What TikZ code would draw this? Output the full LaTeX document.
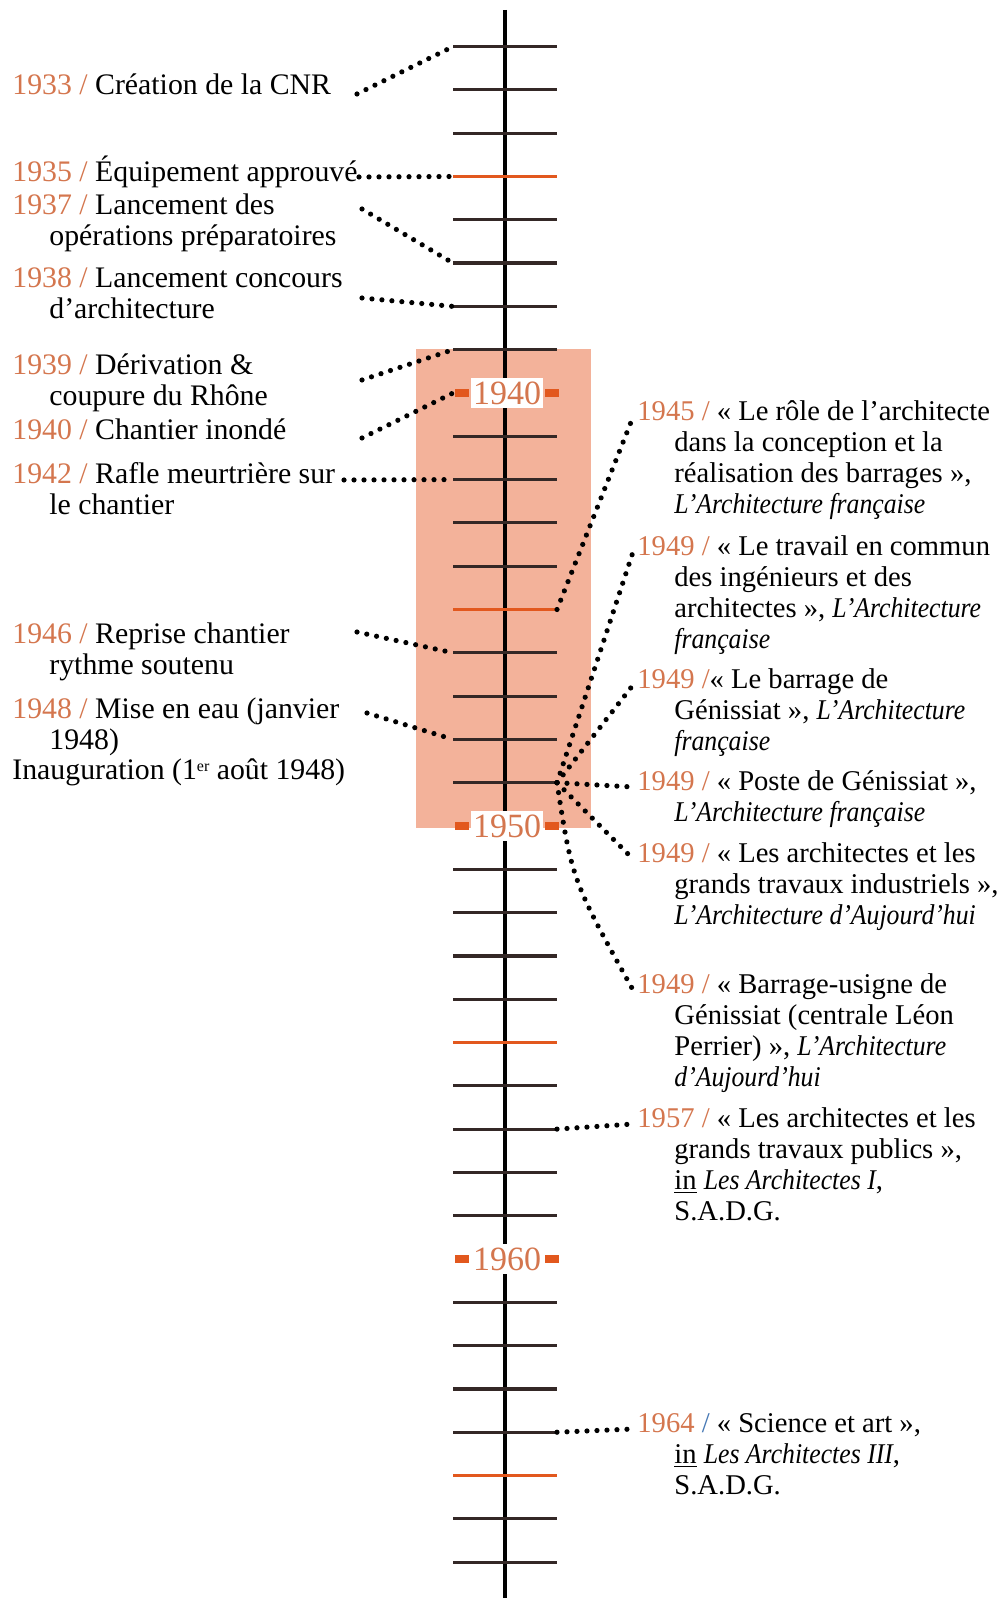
\documentclass[tikz,border=0pt]{standalone}
\usepackage{fontspec}
\setmainfont{Liberation Serif}[ItalicFeatures={FakeStretch=0.9}]
\usetikzlibrary{calc}

\definecolor{annee}{RGB}{212,118,78}
\definecolor{repere}{RGB}{226,88,30}
\definecolor{trait}{RGB}{52,40,38}
\definecolor{saumon}{RGB}{243,178,154}
\definecolor{barre}{RGB}{70,120,180}

\newcommand{\datean}[1]{\textcolor{annee}{#1 /}}
\newcommand{\retrait}{\hspace*{18.5pt}}

\begin{document}
\begin{tikzpicture}[x=0.5pt,y=-0.5pt,
  evt/.style={anchor=north west,inner sep=0pt,align=left,font=\fontsize{14.9}{14.4}\selectfont},
  pub/.style={evt,font=\fontsize{14.3}{15.6}\selectfont},
  pointille/.style={line width=2.6pt,dash pattern=on 0pt off 5pt,line cap=round},
  decennie/.style={fill=white,inner xsep=1pt,inner ysep=2pt,text=annee,font=\fontsize{17}{17}\selectfont}]

  % cadre
  \useasboundingbox (0,0) rectangle (1000,1598);

  % periode du chantier
  \fill[saumon] (416,349) rectangle (591,828);

  % axe
  \draw[line width=2pt] (505,10) -- (505,1598);

  % graduations : une par annee
  \foreach \a in {1932,...,1967}{
    \pgfmathsetmacro{\yt}{393+(\a-1940)*43.3}
    \pgfmathtruncatemacro{\r}{mod(\a,10)}
    \coordinate (g\a) at (453,\yt);
    \coordinate (d\a) at (557,\yt);
    \ifnum\r=0
    \else
      \ifnum\r=5
        \draw[repere,line width=1.6pt] (g\a) -- (d\a);
      \else
        \draw[trait,line width=1.6pt] (g\a) -- (d\a);
      \fi
    \fi
  }

  % decennies
  \foreach \a in {1940,1950,1960}{
    \pgfmathsetmacro{\yt}{393+(\a-1940)*43.3}
    \fill[repere] (455,\yt-4) rectangle (469,\yt+4);
    \fill[repere] (545,\yt-4) rectangle (559,\yt+4);
    \node[decennie] (n\a) at (507,\yt) {\a};
  }

  % evenements du chantier (gauche)
  \node[evt] (e1933) at (12,73) {\strut\datean{1933} Création de la CNR};
  \node[evt] (e1935) at (12,156) {\strut\datean{1935} Équipement approuvé};
  \node[evt] (e1937) at (12,193) {\strut\datean{1937} Lancement des\\\retrait opérations préparatoires};
  \node[evt] (e1938) at (12,267) {\strut\datean{1938} Lancement concours\\\retrait d’architecture};
  \node[evt] (e1939) at (12,353) {\strut\datean{1939} Dérivation \&\\\retrait coupure du Rhône};
  \node[evt] (e1940) at (12,418) {\strut\datean{1940} Chantier inondé};
  \node[evt] (e1942) at (12,462) {\strut\datean{1942} Rafle meurtrière sur\\\retrait le chantier};
  \node[evt] (e1946) at (12,622) {\strut\datean{1946} Reprise chantier\\\retrait rythme soutenu};
  \node[evt] (e1948) at (12,697) {\strut\datean{1948} Mise en eau (janvier\\\retrait 1948)\\[0.6pt]Inauguration (1\raisebox{0.55ex}{\fontsize{8}{8}\selectfont er} août 1948)};

  \coordinate (a1933) at (357,94);
  \coordinate (a1935) at (359,177);
  \coordinate (a1937) at (362,209);
  \coordinate (a1938) at (362,298);
  \coordinate (a1939) at (362,380);
  \coordinate (a1940) at (362,438);
  \coordinate (a1942) at (344,480);
  \coordinate (a1946) at (357,632);
  \coordinate (a1948) at (367,713);

  \draw[pointille] (a1933) -- (g1932);
  \draw[pointille] (a1935) -- (g1935);
  \draw[pointille] (a1937) -- (g1937);
  \draw[pointille] (a1938) -- (g1938);
  \draw[pointille] (a1939) -- (g1939);
  \draw[pointille] (a1940) -- (g1940);
  \draw[pointille] (a1942) -- (g1942);
  \draw[pointille] (a1946) -- (g1946);
  \draw[pointille] (a1948) -- (g1948);

  % publications (droite)
  \node[pub] (p1945) at (637,398) {\strut\datean{1945} « Le rôle de l’architecte\\\retrait dans la conception et la\\\retrait réalisation des barrages »,\\\retrait\textit{L’Architecture française}};
  \node[pub] (p1949a) at (637,533) {\strut\datean{1949} « Le travail en commun\\\retrait des ingénieurs et des\\\retrait architectes », \textit{L’Architecture}\\\retrait\textit{française}};
  \node[pub] (p1949b) at (637,666) {\strut\datean{1949}« Le barrage de\\\retrait Génissiat », \textit{L’Architecture}\\\retrait\textit{française}};
  \node[pub] (p1949c) at (637,768) {\strut\datean{1949} « Poste de Génissiat »,\\\retrait\textit{L’Architecture française}};
  \node[pub] (p1949d) at (637,840) {\strut\datean{1949} « Les architectes et les\\\retrait grands travaux industriels »,\\\retrait\textit{L’Architecture d’Aujourd’hui}};
  \node[pub] (p1949e) at (637,971) {\strut\datean{1949} « Barrage-usigne de\\\retrait Génissiat (centrale Léon\\\retrait Perrier) », \textit{L’Architecture}\\\retrait\textit{d’Aujourd’hui}};
  \node[pub] (p1957) at (637,1105) {\strut\datean{1957} « Les architectes et les\\\retrait grands travaux publics »,\\\retrait\underline{in} \textit{Les Architectes I},\\\retrait S.A.D.G.};
  \node[pub] (p1964) at (637,1410) {\strut\textcolor{annee}{1964} \textcolor{barre}{/} « Science et art »,\\\retrait\underline{in} \textit{Les Architectes III},\\\retrait S.A.D.G.};

  \draw[pointille] (d1945) -- ([shift={(-4,19)}]p1945.north west);
  \draw[pointille] (d1949) -- ([shift={(-4,19)}]p1949a.north west);
  \draw[pointille] (d1949) -- ([shift={(-4,19)}]p1949b.north west);
  \draw[pointille] (d1949) -- ([shift={(-4,19)}]p1949c.north west);
  \draw[pointille] (d1949) -- ([shift={(-4,19)}]p1949d.north west);
  \draw[pointille] (d1949) .. controls (572,880) .. ([shift={(-4,19)}]p1949e.north west);
  \draw[pointille] (d1957) -- ([shift={(-4,19)}]p1957.north west);
  \draw[pointille] (d1964) -- ([shift={(-4,19)}]p1964.north west);
\end{tikzpicture}
\end{document}
